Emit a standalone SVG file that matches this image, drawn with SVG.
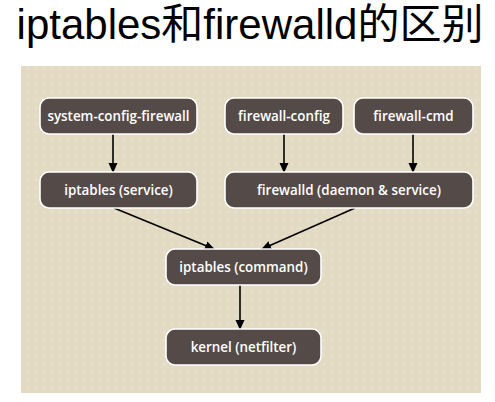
<svg xmlns="http://www.w3.org/2000/svg" width="495" height="402" viewBox="0 0 495 402">
  <defs>
    <pattern id="dots" width="8" height="8" patternUnits="userSpaceOnUse">
      <rect width="8" height="8" fill="#e2dac2"/>
      <circle cx="4" cy="4" r="1.6" fill="#e8e1cc"/>
    </pattern>
    <marker id="arr" markerWidth="10" markerHeight="10" refX="9" refY="5" orient="auto" markerUnits="userSpaceOnUse">
      <path d="M0,0.5 L10,5 L0,9.5 Z" fill="#000"/>
    </marker>
    <style>
      .node rect { fill: #544b49; stroke: #ffffff; stroke-width: 1.6; }
      .node text { fill: #ffffff; font-family: "Open Sans", "Liberation Sans", sans-serif; font-size: 13.4px; font-weight: 600; text-anchor: middle; }
      .edge { stroke: #000; stroke-width: 1.6; fill: none; marker-end: url(#arr); }
      .title { font-family: "Liberation Sans", "Noto Sans CJK SC", sans-serif; font-size: 42px; fill: #000; text-anchor: middle; }
    </style>
  </defs>
  <rect width="495" height="402" fill="#ffffff"/>
  <text class="title" x="250" y="39">iptables和firewalld的区别</text>
  <rect x="21" y="66" width="460" height="327" fill="url(#dots)"/>

  <g id="connectors">
    <line class="edge" x1="113" y1="134" x2="113" y2="172"/>
    <line class="edge" x1="284" y1="134" x2="284" y2="172"/>
    <line class="edge" x1="413" y1="134" x2="413" y2="172"/>
    <line class="edge" x1="114" y1="208" x2="214" y2="249"/>
    <line class="edge" x1="355" y1="208" x2="262" y2="249"/>
    <line class="edge" x1="240" y1="285" x2="240" y2="329"/>
  </g>

  <g id="system-config-firewall" class="node">
    <rect x="40" y="98" width="157" height="36" rx="9"/>
    <text x="118.5" y="121">system-config-firewall</text>
  </g>
  <g id="firewall-config" class="node">
    <rect x="225" y="98" width="118" height="36" rx="9"/>
    <text x="284" y="121">firewall-config</text>
  </g>
  <g id="firewall-cmd" class="node">
    <rect x="354" y="98" width="119" height="36" rx="9"/>
    <text x="413.5" y="121">firewall-cmd</text>
  </g>
  <g id="iptables-service" class="node">
    <rect x="40" y="172" width="157" height="36" rx="9"/>
    <text x="118.5" y="195">iptables (service)</text>
  </g>
  <g id="firewalld" class="node">
    <rect x="225" y="172" width="248" height="36" rx="9"/>
    <text x="349" y="195">firewalld (daemon &amp; service)</text>
  </g>
  <g id="iptables-command" class="node">
    <rect x="166" y="249" width="155" height="36" rx="9"/>
    <text x="243.5" y="272">iptables (command)</text>
  </g>
  <g id="kernel" class="node">
    <rect x="166" y="329" width="155" height="36" rx="9"/>
    <text x="243.5" y="352">kernel (netfilter)</text>
  </g>
</svg>
